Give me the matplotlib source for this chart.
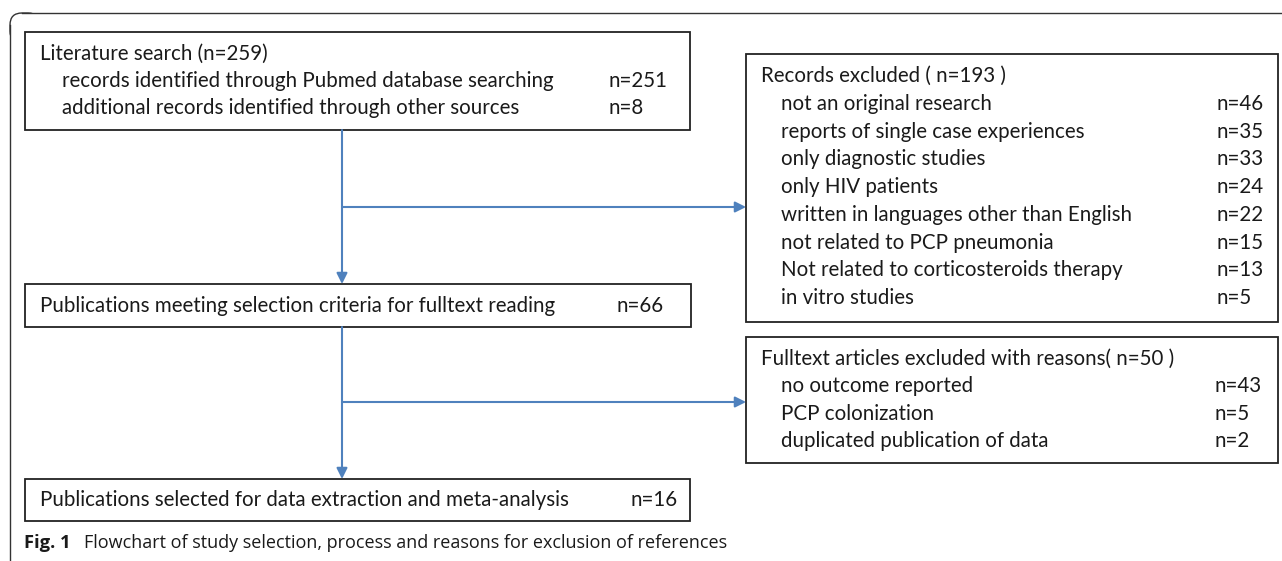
import matplotlib.pyplot as plt
from matplotlib.patches import Rectangle, FancyBboxPatch

# data
search_total = 259
search_sources = ["records identified through Pubmed database searching",
                  "additional records identified through other sources"]
search_counts = [251, 8]

screened_label = "Publications meeting selection criteria for fulltext reading"
screened_n = 66

records_excluded_total = 193
records_excluded_reasons = ["not an original research",
                            "reports of single case experiences",
                            "only diagnostic studies",
                            "only HIV patients",
                            "written in languages other than English",
                            "not related to PCP pneumonia",
                            "Not related to corticosteroids therapy",
                            "in vitro studies"]
records_excluded_counts = [46, 35, 33, 24, 22, 15, 13, 5]

fulltext_excluded_total = 50
fulltext_excluded_reasons = ["no outcome reported",
                             "PCP colonization",
                             "duplicated publication of data"]
fulltext_excluded_counts = [43, 5, 2]

included_label = "Publications selected for data extraction and meta-analysis"
included_n = 16

caption_bold = "Fig. 1"
caption_text = "Flowchart of study selection, process and reasons for exclusion of references"

W, H = 1282, 561
BOX_EDGE = '#222222'
ARROW = '#4f81bd'
FONT = 'Lato'
FS = 14.8

fig = plt.figure(figsize=(W / 100, H / 100), dpi=100)
ax = fig.add_axes([0, 0, 1, 1])
ax.set_xlim(0, W)
ax.set_ylim(H, 0)
ax.axis('off')


def box(x0, y0, x1, y1):
    ax.add_patch(Rectangle((x0, y0), x1 - x0, y1 - y0, fill=False,
                           edgecolor=BOX_EDGE, lw=1.3))


def txt(x, y, s, **kw):
    ax.text(x, y, s, fontsize=FS, family=FONT, color='#1a1a1a',
            va='center', ha='left', **kw)


def arrow(x0, y0, x1, y1):
    ax.annotate('', xy=(x1, y1), xytext=(x0, y0),
                arrowprops=dict(arrowstyle='-|>', color=ARROW, lw=1.5,
                                mutation_scale=16, shrinkA=0, shrinkB=0))


# outer frame (cropped panel border)
ax.plot([10, 10], [H, 25], color='#333333', lw=1.0)
ax.plot([22, W], [13, 13], color='#333333', lw=1.0)
ax.add_patch(FancyBboxPatch((10, 13), 30, 30, boxstyle='round,pad=0,rounding_size=12',
                            fill=False, edgecolor='#333333', lw=1.0))
ax.add_patch(Rectangle((11, 26), 40, 40, color='white', zorder=1))
ax.add_patch(Rectangle((23, 14), 40, 40, color='white', zorder=1))

# literature search box
box(25, 32, 690, 130)
txt(40, 54, f"Literature search (n={search_total})")
for i, (lab, n) in enumerate(zip(search_sources, search_counts)):
    y = 81 + 27 * i
    txt(62, y, lab)
    txt(608, y, f"n={n}")

# fulltext screening box
box(25, 284, 691, 327)
txt(40, 306, screened_label)
txt(617, 306, f"n={screened_n}")

# included box
box(25, 479, 690, 521)
txt(40, 500, included_label)
txt(630, 500, f"n={included_n}")

# records excluded box
box(746, 54, 1278, 322)
txt(761, 76, f"Records excluded ( n={records_excluded_total} )")
for i, (lab, n) in enumerate(zip(records_excluded_reasons, records_excluded_counts)):
    y = 104 + 27.7 * i
    txt(781, y, lab)
    txt(1216, y, f"n={n}")

# fulltext excluded box
box(746, 337, 1278, 463)
txt(761, 359, f"Fulltext articles excluded with reasons( n={fulltext_excluded_total} )")
for i, (lab, n) in enumerate(zip(fulltext_excluded_reasons, fulltext_excluded_counts)):
    y = 386 + 27.5 * i
    txt(781, y, lab)
    txt(1215, y, f"n={n}")

# arrows
arrow(342, 130, 342, 284)
arrow(342, 207, 746, 207)
arrow(342, 327, 342, 479)
arrow(342, 402, 746, 402)

# caption
ax.text(24, 543, caption_bold, fontsize=13.2, family='Open Sans', fontweight='bold',
        va='center', ha='left', color='#1a1a1a')
ax.text(84, 543, caption_text, fontsize=13.0, family='Open Sans',
        va='center', ha='left', color='#1a1a1a')

fig.savefig('out.png', dpi=100)
